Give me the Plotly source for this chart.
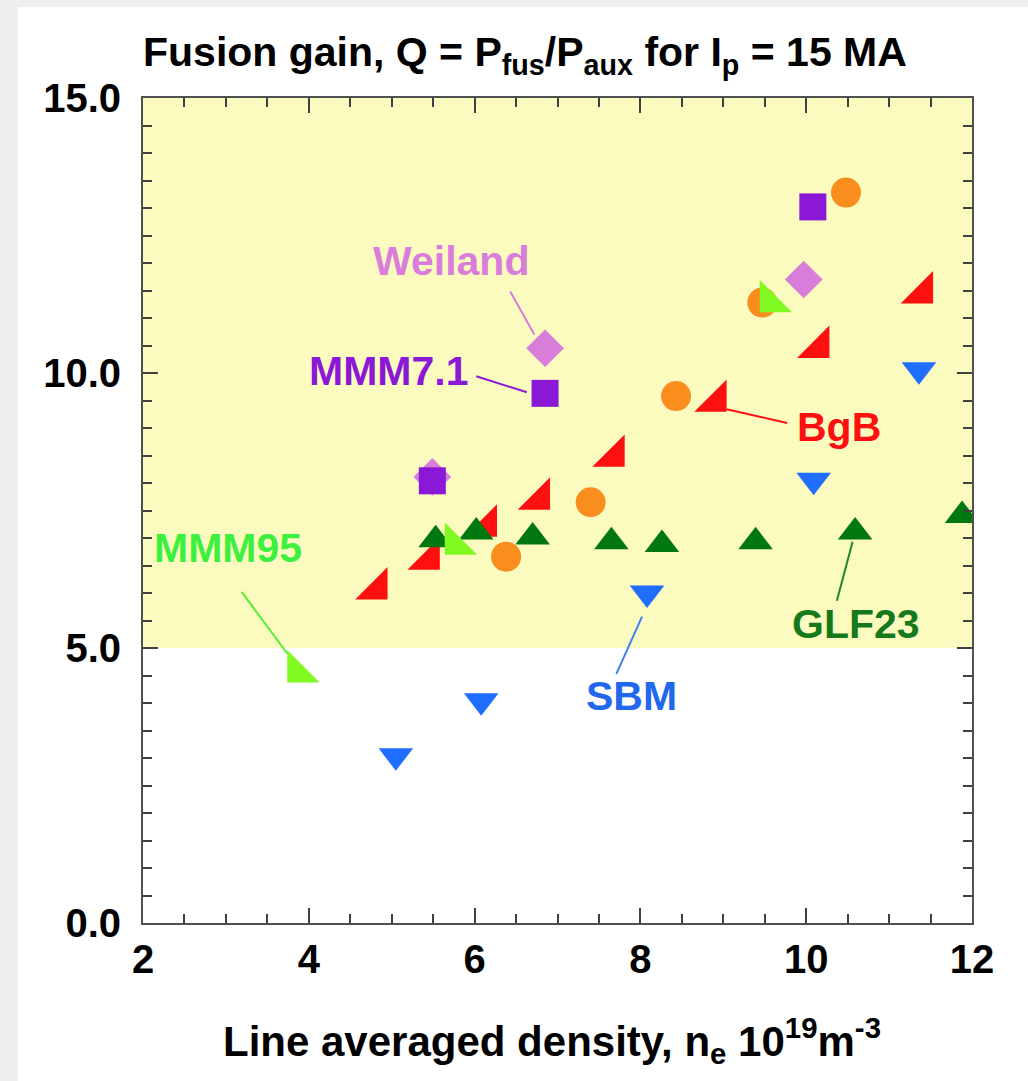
import plotly.graph_objects as go

# ---------------- data ----------------
weiland_x = [5.49, 6.85, 9.97]
weiland_y = [8.11, 10.45, 11.70]

mmm71_x = [5.49, 6.85, 10.08]
mmm71_y = [8.04, 9.63, 13.02]

bgb_x = [4.82, 5.45, 6.14, 6.78, 7.68, 8.91, 10.15, 11.40]
bgb_y = [6.08, 6.62, 7.22, 7.71, 8.49, 9.49, 10.47, 11.46]

glf23_x = [5.53, 6.02, 6.70, 7.65, 8.26, 9.39, 10.59, 11.88]
glf23_y = [6.97, 7.11, 7.02, 6.93, 6.88, 6.93, 7.11, 7.41]

orange_x = [6.38, 7.40, 8.43, 9.47, 10.48]
orange_y = [6.66, 7.65, 9.58, 11.28, 13.28]

mmm95_x = [3.87, 5.77, 9.57]
mmm95_y = [4.57, 6.89, 11.30]

sbm_x = [5.05, 6.08, 8.08, 10.09, 11.36]
sbm_y = [3.04, 4.04, 6.00, 8.05, 10.06]

x_ticks = [2, 4, 6, 8, 10, 12]
y_ticks = [0, 5, 10, 15]
q_threshold = 5.0

FONT = "Liberation Sans, Arial, sans-serif"

fig = go.Figure()


def add(x, y, symbol, size, color, name):
    fig.add_trace(go.Scatter(x=x, y=y, mode="markers", name=name,
                             marker=dict(symbol=symbol, size=size, color=color,
                                         line=dict(width=0)),
                             showlegend=False, hoverinfo="x+y+name"))


add(weiland_x, weiland_y, "diamond", 29, "#D97DDB", "Weiland")
add(mmm71_x, mmm71_y, "square", 27, "#8A18D6", "MMM7.1")
add(bgb_x, bgb_y, "triangle-se", 36, "#FF1010", "BgB")
add(glf23_x, glf23_y, "triangle-up", 30, "#00780F", "GLF23")
add(orange_x, orange_y, "circle", 30, "#F98E1F", "other")
add(mmm95_x, mmm95_y, "triangle-sw", 36, "#80FA22", "MMM95")
add(sbm_x, sbm_y, "triangle-down", 30, "#1F6EFF", "SBM")

# ---------------- background panels ----------------
shapes = [
    dict(type="rect", xref="paper", yref="paper", x0=-0.1508, x1=1.08, y0=-0.20, y1=1.1103,
         fillcolor="white", line=dict(width=0), layer="below"),
    dict(type="rect", xref="x", yref="y", x0=2, x1=12, y0=q_threshold, y1=15,
         fillcolor="#FCFBBF", line=dict(width=0), layer="below"),
]

leaders = [
    ((6.43, 11.48), (6.72, 10.70), "#D97DDB"),
    ((6.02, 9.94), (6.63, 9.65), "#8A18D6"),
    ((9.04, 9.34), (9.77, 9.09), "#FF1010"),
    ((3.19, 6.02), (3.74, 4.90), "#55EE33"),
    ((8.02, 5.57), (7.71, 4.53), "#3F7FF0"),
    ((10.56, 6.93), (10.37, 5.86), "#1E8A1E"),
]
for (a, b, c) in leaders:
    shapes.append(dict(type="line", xref="x", yref="y", x0=a[0], y0=a[1], x1=b[0], y1=b[1],
                       line=dict(color=c, width=2)))

labels = [
    ("Weiland", 5.72, 12.03, "#D97DDB"),
    ("MMM7.1", 4.96, 10.03, "#8A18D6"),
    ("BgB", 10.40, 9.02, "#FF1010"),
    ("MMM95", 3.03, 6.82, "#3DF03D"),
    ("SBM", 7.89, 4.12, "#2268EE"),
    ("GLF23", 10.60, 5.44, "#14791A"),
]
annotations = []
for (t, x, y, c) in labels:
    annotations.append(dict(text=t, x=x, y=y, xref="x", yref="y", showarrow=False,
                            font=dict(family=FONT, size=41, color=c, weight="bold")))

annotations.append(dict(
    text="Fusion gain, Q = P<sub>fus</sub>/P<sub>aux</sub> for I<sub>p</sub> = 15 MA",
    xref="paper", yref="paper", x=0.461, y=1.052, showarrow=False,
    xanchor="center", yanchor="middle",
    font=dict(family=FONT, size=41, color="black", weight="bold")))
annotations.append(dict(
    text="Line averaged density, n<sub>e</sub> 10<sup>19</sup>m<sup>-3</sup>",
    xref="paper", yref="paper", x=0.493, y=-0.142, showarrow=False,
    xanchor="center", yanchor="middle",
    font=dict(family=FONT, size=42, color="black", weight="bold")))

axis_common = dict(showline=True, linecolor="#505050", linewidth=2, mirror="ticks",
                   ticks="inside", tickcolor="#404040", tickwidth=2, ticklen=15,
                   showgrid=False, zeroline=False,
                   tickfont=dict(family=FONT, size=40, color="black", weight="bold"))

fig.update_layout(
    width=1028, height=1081,
    margin=dict(l=143, r=56, t=98, b=158),
    paper_bgcolor="#EFEFEF", plot_bgcolor="white",
    shapes=shapes, annotations=annotations,
    xaxis=dict(range=[2, 12], tickvals=x_ticks, ticktext=[str(v) for v in x_ticks],
               minor=dict(dtick=0.5, ticks="inside", ticklen=9, tickcolor="#404040", tickwidth=2),
               **axis_common),
    yaxis=dict(range=[0, 15], tickvals=y_ticks, ticktext=[f"{v:.1f}" for v in y_ticks],
               ticklabelstandoff=12,
               minor=dict(dtick=0.5, ticks="inside", ticklen=9, tickcolor="#404040", tickwidth=2),
               **axis_common),
)

fig.write_html("out.html")
